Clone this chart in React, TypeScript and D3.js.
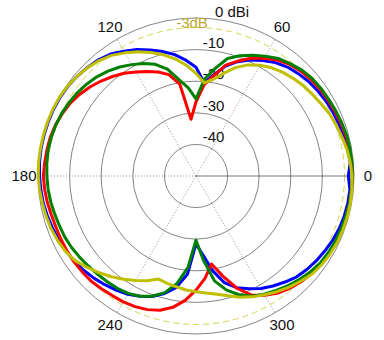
import React, { useEffect, useRef } from 'react';
import * as d3 from 'd3';

// angles in degrees (0 = right, counter-clockwise), 5 degree steps
const angles = d3.range(0, 360, 5);

const blueDb = [
  -1.8, -1.0, -1.2, -1.5, -1.9, -2.2, -2.5, -3.0, -3.5, -4.2, -5.0, -6.2, -7.8, -9.5, -11.5, -14.0, -17.5, -20.4,
  -15.6, -13.2, -11.0, -9.2, -7.6, -5.8, -4.4, -2.9, -2.0, -1.4, -0.9, -0.5, -0.3, -0.2, -0.2, -0.2, -0.2, -0.3,
  -0.5, -0.7, -0.9, -1.3, -1.7, -2.1, -2.6, -3.0, -3.6, -4.3, -5.1, -5.9, -6.8, -8.0, -9.4, -11.5, -14.2, -18.8,
  -28.5, -25.0, -19.5, -15.0, -12.4, -10.6, -8.9, -7.5, -6.2, -4.9, -4.1, -3.4, -2.8, -2.2, -1.7, -1.4, -1.2, -1.1,
];

const redDb = [
  -0.5, -0.5, -0.7, -0.9, -1.2, -1.5, -1.8, -2.1, -2.5, -3.1, -3.9, -5.2, -7.0, -8.9, -11.3, -13.7, -17.8, -21.1,
  -26.5, -32.0, -20.5, -16.8, -15.0, -13.5, -12.0, -10.3, -8.9, -7.5, -6.2, -5.0, -4.0, -3.3, -2.7, -2.3, -2.1, -1.9,
  -1.7, -1.9, -2.2, -2.6, -2.8, -2.8, -2.8, -2.8, -2.9, -3.0, -3.4, -3.8, -4.0, -4.4, -5.0, -6.0, -7.8, -10.5,
  -13.9, -17.5, -21.7, -17.2, -12.2, -8.4, -6.4, -4.8, -3.7, -2.8, -2.2, -1.7, -1.4, -1.2, -1.0, -0.9, -0.7, -0.6,
];

const greenDb = [
  -0.5, -0.5, -0.5, -0.6, -0.9, -1.2, -1.5, -1.7, -2.0, -2.6, -3.6, -4.6, -6.2, -7.8, -9.5, -11.5, -15.5, -19.2,
  -25.6, -22.0, -19.0, -15.0, -12.4, -10.7, -9.3, -7.9, -6.7, -5.6, -4.8, -4.1, -3.6, -3.1, -2.8, -2.6, -2.5, -2.6,
  -2.8, -3.0, -3.3, -3.7, -4.0, -4.2, -4.6, -5.1, -5.6, -6.0, -6.3, -6.6, -7.1, -8.0, -9.5, -11.8, -15.5, -21.0,
  -29.7, -23.3, -16.3, -12.6, -10.0, -8.0, -6.8, -5.8, -4.7, -3.7, -2.8, -2.0, -1.6, -1.3, -1.1, -0.9, -0.7, -0.6,
];

const yellowDb = [
  -0.6, -1.0, -1.5, -2.2, -2.8, -3.4, -4.3, -5.0, -5.6, -6.4, -7.2, -8.2, -9.5, -11.2, -13.5, -16.4, -19.0, -20.4,
  -17.5, -14.8, -12.4, -10.3, -8.4, -6.6, -5.0, -3.4, -2.3, -1.5, -0.9, -0.4, -0.1, 0, 0, 0, 0, 0,
  -0.1, -0.3, -0.6, -0.9, -1.2, -1.7, -2.3, -3.3, -5.0, -6.7, -8.4, -10.1, -11.8, -13.4, -15.3, -14.8, -14.4, -13.8,
  -13.4, -12.8, -12.0, -10.8, -9.2, -7.8, -6.6, -5.3, -4.1, -3.0, -1.9, -1.3, -0.9, -0.6, -0.5, -0.4, -0.4, -0.5,
];

const series = [
  { name: 'blue', color: '#0000ff', values: blueDb },
  { name: 'red', color: '#ff0000', values: redDb },
  { name: 'green', color: '#008000', values: greenDb },
  { name: 'yellow', color: '#bfbf00', values: yellowDb },
];

const ringTicks = [-10, -20, -30, -40];
const spokeAngles = [60, 120, 240, 300];
const angleLabels = [0, 60, 120, 180, 240, 300];

export default function App() {
  const svgRef = useRef<SVGSVGElement>(null);

  useEffect(() => {
    const width = 384;
    const height = 340;
    const cx = 196;
    const cy = 176;
    const R = 158;

    const svg = d3.select(svgRef.current);
    svg.selectAll('*').remove();
    svg.attr('width', width).attr('height', height);

    const r = d3.scaleLinear().domain([-50, 0]).range([0, R]);
    const g = svg.append('g').attr('transform', `translate(${cx},${cy})`);
    const rad = (deg: number) => (deg * Math.PI) / 180;

    // rings
    g.selectAll('circle.ring')
      .data([-40, -30, -20, -10, 0])
      .enter()
      .append('circle')
      .attr('r', (d) => r(d))
      .attr('fill', 'none')
      .attr('stroke', '#666')
      .attr('stroke-width', 0.8);

    // -3dB reference
    g.append('circle')
      .attr('r', r(-3))
      .attr('fill', 'none')
      .attr('stroke', '#d4d44a')
      .attr('stroke-width', 1)
      .attr('stroke-dasharray', '6,4');

    // spokes
    g.selectAll('line.spoke')
      .data(spokeAngles)
      .enter()
      .append('line')
      .attr('x1', 0)
      .attr('y1', 0)
      .attr('x2', (d) => R * Math.cos(rad(d)))
      .attr('y2', (d) => -R * Math.sin(rad(d)))
      .attr('stroke', '#777')
      .attr('stroke-width', 0.8)
      .attr('stroke-dasharray', '1,2');

    g.append('line')
      .attr('x1', 0).attr('y1', 0)
      .attr('x2', -R).attr('y2', 0)
      .attr('stroke', '#777')
      .attr('stroke-width', 0.8)
      .attr('stroke-dasharray', '1,2');

    g.append('line')
      .attr('x1', 0).attr('y1', 0)
      .attr('x2', R).attr('y2', 0)
      .attr('stroke', '#555')
      .attr('stroke-width', 0.8);

    const font = 'Liberation Sans, Arial, sans-serif';

    // ring labels
    g.selectAll('text.ring')
      .data(ringTicks)
      .enter()
      .append('text')
      .attr('x', 17.5)
      .attr('y', (d) => -r(d) - 2)
      .attr('text-anchor', 'middle')
      .attr('font-family', font)
      .attr('font-size', 15)
      .attr('fill', '#111')
      .text((d) => d);

    // angle labels
    g.selectAll('text.ang')
      .data(angleLabels)
      .enter()
      .append('text')
      .attr('x', (d) => 172 * Math.cos(rad(d)))
      .attr('y', (d) => -172 * Math.sin(rad(d)))
      .attr('dy', '0.35em')
      .attr('text-anchor', 'middle')
      .attr('font-family', font)
      .attr('font-size', 15)
      .attr('fill', '#111')
      .text((d) => d);

    const line = d3
      .lineRadial<number>()
      .angle((_, i) => rad(90 - angles[i]))
      .radius((d) => r(d))
      .curve(d3.curveLinearClosed);

    g.selectAll('path.trace')
      .data(series)
      .enter()
      .append('path')
      .attr('d', (d) => line(d.values))
      .attr('fill', 'none')
      .attr('stroke', (d) => d.color)
      .attr('stroke-width', 3)
      .attr('stroke-linejoin', 'round');

    g.append('text')
      .attr('x', 19)
      .attr('y', -R - 1)
      .attr('font-family', font)
      .attr('font-size', 15)
      .attr('fill', '#111')
      .text('0 dBi');

    g.append('text')
      .attr('x', -4)
      .attr('y', -R + 10)
      .attr('text-anchor', 'middle')
      .attr('font-family', font)
      .attr('font-size', 15)
      .attr('fill', '#bba833')
      .text('-3dB');
  }, []);

  return (
    <svg
      ref={svgRef}
      style={{ position: 'absolute', left: 0, top: 0, background: '#fff' }}
    ></svg>
  );
}
